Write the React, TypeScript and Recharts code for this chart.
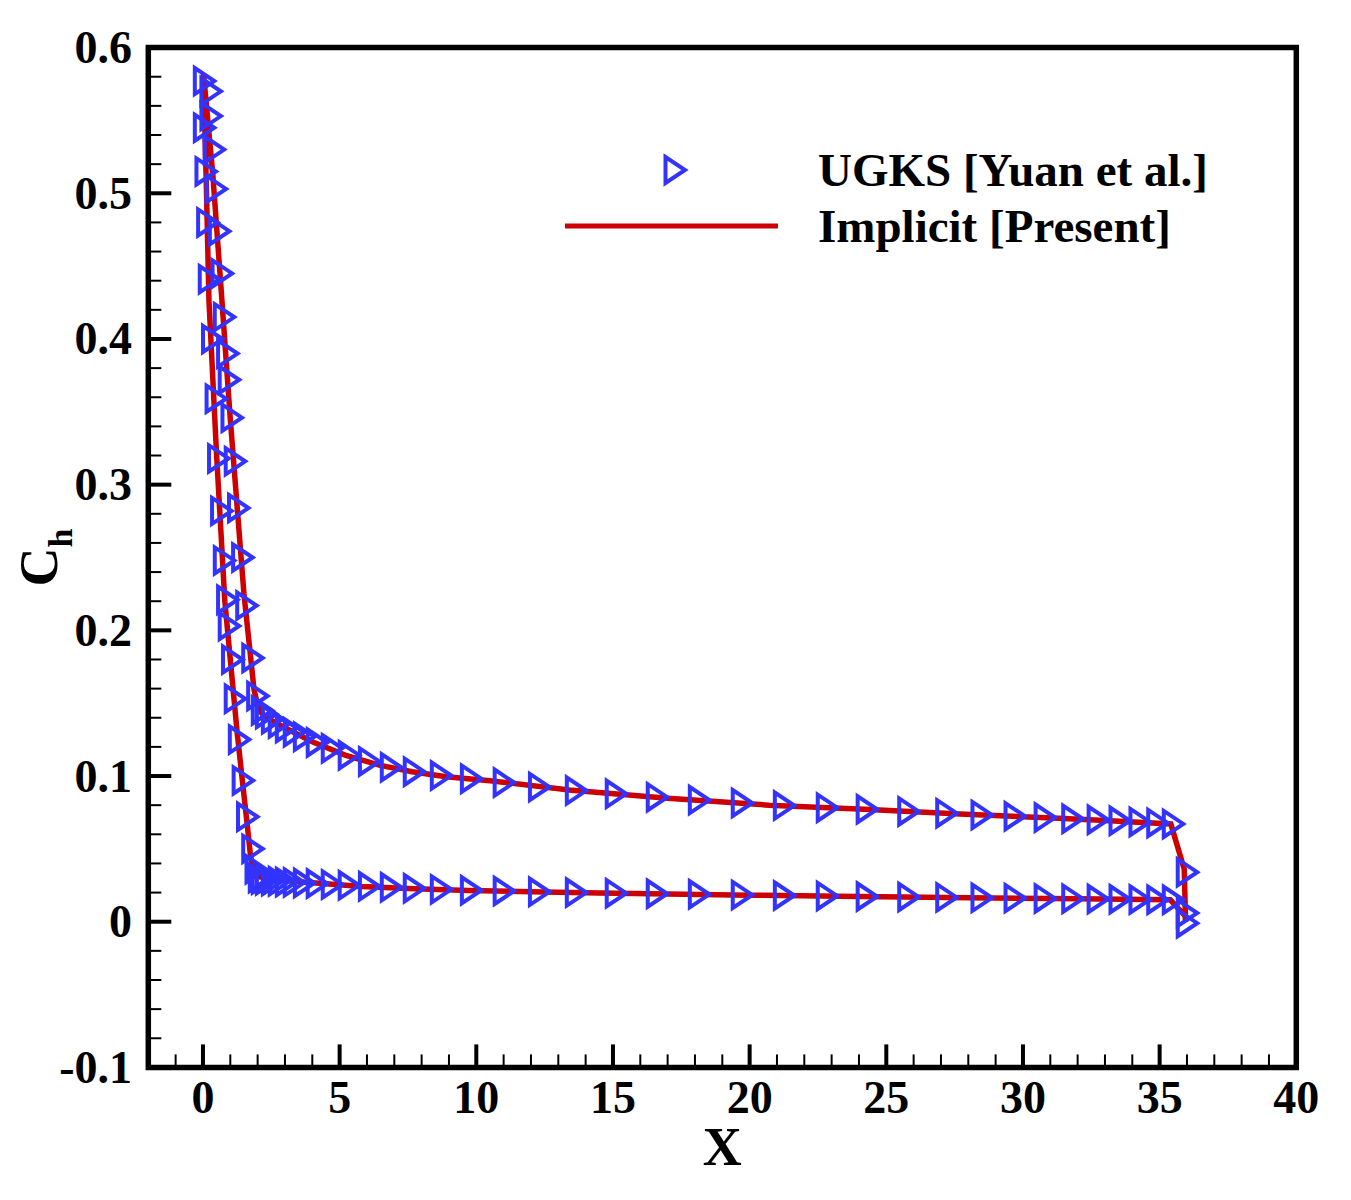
import React from 'react';
import { ComposedChart, Line, Scatter, XAxis, YAxis, Legend, ReferenceArea } from 'recharts';

// UGKS [Yuan et al.] markers, nose region (lower surface, left column)
const ugksNoseLower: [number, number][] = [
  [-0.06, 0.577], [-0.06, 0.545], [0.0, 0.515], [0.06, 0.48], [0.12, 0.441], [0.24, 0.4],
  [0.37, 0.359], [0.46, 0.318], [0.57, 0.282], [0.67, 0.248], [0.79, 0.221], [0.85, 0.203],
  [0.97, 0.18], [1.07, 0.153], [1.22, 0.125], [1.36, 0.097], [1.52, 0.072], [1.71, 0.05],
  [1.83, 0.036], [1.95, 0.03],
];

// UGKS markers, nose region (upper surface, right column)
const ugksNoseUpper: [number, number][] = [
  [0.18, 0.57], [0.18, 0.553], [0.3, 0.53], [0.37, 0.503], [0.49, 0.474], [0.59, 0.445],
  [0.67, 0.415], [0.79, 0.39], [0.85, 0.372], [0.95, 0.346], [1.07, 0.316], [1.19, 0.284],
  [1.34, 0.25], [1.49, 0.217], [1.71, 0.181], [1.89, 0.155],
];

// surface stations shared by both branches
const surfaceX = [
  2.06, 2.21, 2.43, 2.68, 2.94, 3.23, 3.6, 4.07, 4.62, 5.24, 5.98, 6.78, 7.62, 8.61, 9.71,
  10.91, 12.2, 13.55, 15.01, 16.51, 18.05, 19.62, 21.16, 22.73, 24.19, 25.71, 27.1, 28.39,
  29.6, 30.7, 31.71, 32.64, 33.44, 34.17, 34.82, 35.39,
];
const ugksUpperY = [
  0.145, 0.1425, 0.139, 0.136, 0.133, 0.13, 0.127, 0.123, 0.119, 0.1143, 0.11, 0.106, 0.103,
  0.1003, 0.0982, 0.0955, 0.0925, 0.09, 0.0878, 0.0855, 0.0835, 0.0815, 0.0797, 0.0783,
  0.0772, 0.0757, 0.0745, 0.0733, 0.0724, 0.0715, 0.0707, 0.07, 0.0693, 0.0685, 0.0678, 0.0671,
];
const ugksLowerY = [
  0.029, 0.0285, 0.028, 0.0277, 0.0273, 0.027, 0.0266, 0.0262, 0.0256, 0.025, 0.0243, 0.0236,
  0.0229, 0.0222, 0.0216, 0.0211, 0.0205, 0.02, 0.0196, 0.0192, 0.0188, 0.0184, 0.018, 0.0177,
  0.0173, 0.017, 0.0167, 0.0164, 0.0162, 0.016, 0.0158, 0.0156, 0.0154, 0.0153, 0.0151, 0.015,
];
// base (trailing face)
const ugksBase: [number, number][] = [[35.9, 0.034], [35.9, 0.006], [35.9, -0.001]];

// Implicit [Present], closed path around the body
const implicitPath: [number, number][] = [
  [0.02, 0.582], [0.13, 0.5], [0.22, 0.426], [0.5, 0.32], [0.8, 0.22], [1.07, 0.166],
  [1.25, 0.13], [1.44, 0.097], [1.6, 0.07], [1.74, 0.045], [1.88, 0.034], [2.0, 0.031],
  [2.4, 0.0296], [2.8, 0.0287], [3.4, 0.0276], [4.5, 0.026], [5.8, 0.0242], [7.5, 0.0228],
  [9.7, 0.0215], [12, 0.0205], [14.5, 0.0197], [17, 0.019], [20, 0.0182], [24, 0.0173],
  [28, 0.0165], [32, 0.0157], [35.39, 0.015], [35.93, 0.004], [35.95, 0.0], [35.9, 0.036],
  [35.41, 0.0671], [33, 0.0695], [31.3, 0.071], [27.7, 0.074], [24.2, 0.0772], [20.7, 0.08],
  [17, 0.0847], [13.4, 0.0904], [10.5, 0.0968], [8.9, 0.0995], [7.65, 0.1029], [6.45, 0.1075],
  [5.2, 0.1144], [4.0, 0.1235], [2.8, 0.135], [2.3, 0.1405], [2.05, 0.145], [1.87, 0.159],
  [1.5, 0.225], [1.0, 0.345], [0.68, 0.43], [0.36, 0.513], [0.02, 0.582],
];

const xTicks = [
  -2, -1, 0, 1, 2, 3, 4, 5, 6, 7, 8, 9, 10, 11, 12, 13, 14, 15, 16, 17, 18, 19, 20, 21, 22,
  23, 24, 25, 26, 27, 28, 29, 30, 31, 32, 33, 34, 35, 36, 37, 38, 39, 40,
];
const yTicks = [
  -0.1, -0.08, -0.06, -0.04, -0.02, 0, 0.02, 0.04, 0.06, 0.08, 0.1, 0.12, 0.14, 0.16, 0.18,
  0.2, 0.22, 0.24, 0.26, 0.28, 0.3, 0.32, 0.34, 0.36, 0.38, 0.4, 0.42, 0.44, 0.46, 0.48, 0.5,
  0.52, 0.54, 0.56, 0.58, 0.6,
];

const ugksData = [
  ...ugksNoseLower,
  ...ugksNoseUpper,
  ...surfaceX.map((x, i) => [x, ugksUpperY[i]] as [number, number]),
  ...surfaceX.map((x, i) => [x, ugksLowerY[i]] as [number, number]),
  ...ugksBase,
].map(([x, y]) => ({ x, y }));
const implicitData = implicitPath.map(([x, y]) => ({ x, y }));

const W = 1335;
const H = 1184;
const FONT = '"Liberation Serif", "Times New Roman", serif';
const BLUE = '#3333ff';
const RED = '#cc0000';

const Tri = (props: any) => {
  const { cx, cy } = props;
  if (cx == null || cy == null) return null;
  return (
    <path
      d={`M${cx - 6.5},${cy - 13} L${cx - 6.5},${cy + 13} L${cx + 13},${cy} Z`}
      fill="none"
      stroke={BLUE}
      strokeWidth={4}
    />
  );
};

const XTick = (props: any) => {
  const { x, y, payload } = props;
  const v = payload.value;
  const major = Math.abs(v % 5) < 1e-6;
  return (
    <g>
      <line x1={x} x2={x} y1={y} y2={y - (major ? 23 : 13)} stroke="#000" strokeWidth={major ? 4 : 2} />
      {major && (
        <text x={x} y={y + 45.6} textAnchor="middle" fontFamily={FONT} fontWeight="bold" fontSize={46} fill="#000">
          {v}
        </text>
      )}
    </g>
  );
};

const YTick = (props: any) => {
  const { x, y, payload } = props;
  const v = payload.value;
  const major = Math.abs(v * 10 - Math.round(v * 10)) < 1e-6;
  return (
    <g>
      <line x1={x} x2={x + (major ? 23 : 13)} y1={y} y2={y} stroke="#000" strokeWidth={major ? 4 : 2} />
      {major && (
        <text x={x - 16.3} y={y + 15.5} textAnchor="end" fontFamily={FONT} fontWeight="bold" fontSize={46} fill="#000">
          {Math.abs(v) < 1e-9 ? '0' : v.toFixed(1)}
        </text>
      )}
    </g>
  );
};

const XLabel = (props: any) => {
  const vb = props.viewBox || { x: 140.3, y: 1059.4, width: 1148 };
  return (
    <text x={vb.x + vb.width / 2} y={vb.y + 97.6} textAnchor="middle" fontFamily={FONT} fontWeight="bold" fontSize={54} fill="#000">
      X
    </text>
  );
};

const YLabel = () => (
  <text
    x={49}
    y={549.5}
    transform="rotate(-90, 49, 549.5)"
    textAnchor="middle"
    fontFamily={FONT}
    fontWeight="bold"
    fill="#000"
  >
    <tspan fontSize={54}>C</tspan>
    <tspan fontSize={34} dy={15}>h</tspan>
  </text>
);

const LegendBox = () => (
  <svg width={W} height={H} style={{ position: 'absolute', left: 0, top: 0, pointerEvents: 'none' }}>
    <Tri cx={664} cy={162} />
    <text x={810} y={178} fontFamily={FONT} fontWeight="bold" fontSize={47} fill="#000">
      UGKS [Yuan et al.]
    </text>
    <line x1={557} x2={770} y1={218} y2={218} stroke={RED} strokeWidth={5} />
    <text x={810} y={234} fontFamily={FONT} fontWeight="bold" fontSize={47} fill="#000">
      Implicit [Present]
    </text>
  </svg>
);

export default function App() {
  return (
    <div style={{ width: W, height: H, background: '#fff' }}>
      <ComposedChart width={W} height={H} margin={{ top: 39.6, right: 46.7, bottom: 64.6, left: 0 }}>
        <XAxis
          dataKey="x"
          type="number"
          domain={[-2, 40]}
          ticks={xTicks}
          interval={0}
          allowDataOverflow
          axisLine={false}
          tickLine={false}
          tickSize={0}
          tickMargin={0}
          height={60}
          tick={<XTick />}
          label={<XLabel />}
        />
        <YAxis
          dataKey="y"
          type="number"
          domain={[-0.1, 0.6]}
          ticks={yTicks}
          interval={0}
          allowDataOverflow
          axisLine={false}
          tickLine={false}
          tickSize={0}
          tickMargin={0}
          width={140.3}
          tick={<YTick />}
          label={<YLabel />}
        />
        <Scatter data={ugksData} dataKey="y" shape={<Tri />} isAnimationActive={false} />
        <Line
          data={implicitData}
          dataKey="y"
          type="linear"
          stroke={RED}
          strokeWidth={5.5}
          dot={false}
          activeDot={false}
          isAnimationActive={false}
        />
        <ReferenceArea x1={-2} x2={40} y1={-0.1} y2={0.6} fill="none" stroke="#000" strokeWidth={5.5} ifOverflow="visible" />
        <Legend
          layout="vertical"
          align="center"
          verticalAlign="middle"
          content={<LegendBox />}
          wrapperStyle={{ left: 0, top: 0, width: W, height: H, margin: 0 }}
        />
      </ComposedChart>
    </div>
  );
}
